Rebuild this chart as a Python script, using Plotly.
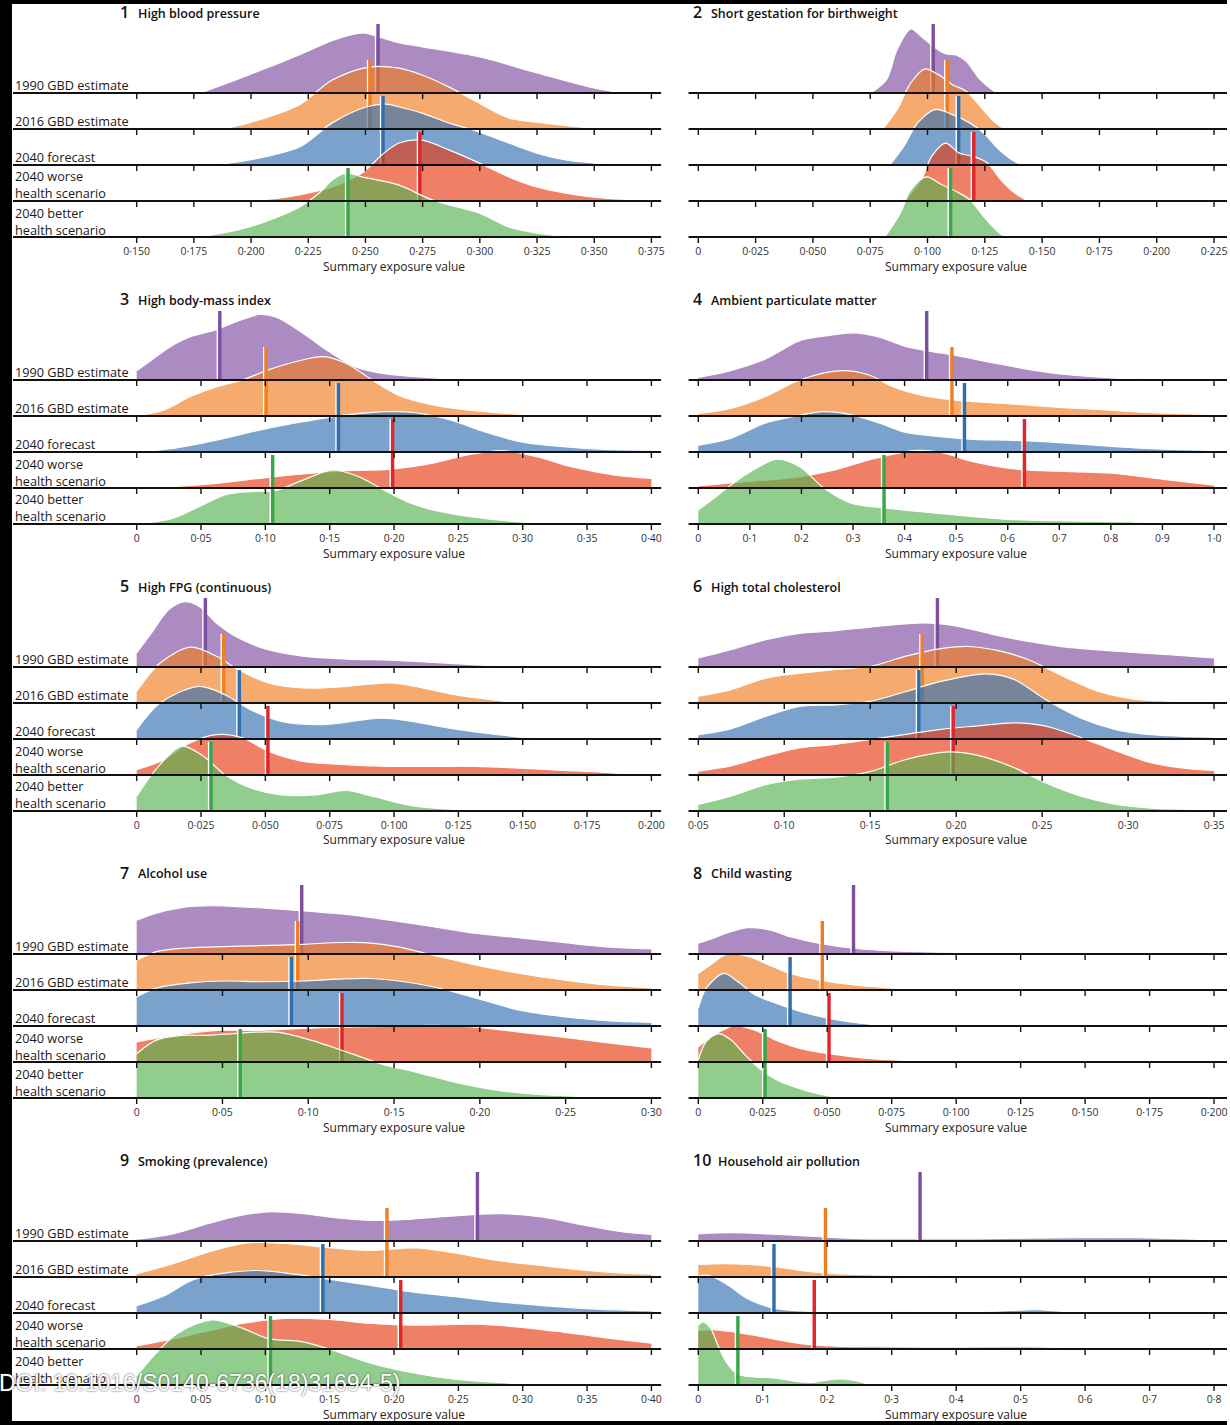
import plotly.graph_objects as go

W, H = 1230, 1425
FONT = "Open Sans"

ROW_LABELS = ["1990 GBD estimate", "2016 GBD estimate", "2040 forecast",
              "2040 worse<br>health scenario", "2040 better<br>health scenario"]
FILL_RGB = [(128, 75, 161), (241, 124, 32), (51, 112, 178), (232, 60, 18), (86, 178, 78)]
FILL_ALPHA = 0.65
BAR_COLORS = ["#7d4f9f", "#f07f22", "#2f6fb0", "#e0262a", "#3aa64a"]

TITLES = ["High blood pressure", "Short gestation for birthweight", "High body-mass index",
          "Ambient particulate matter", "High FPG (continuous)", "High total cholesterol",
          "Alcohol use", "Child wasting", "Smoking (prevalence)", "Household air pollution"]

# ---------------- 1 High blood pressure ----------------
hbp_x = [
    [0.178, 0.199, 0.221, 0.236, 0.249, 0.256, 0.265, 0.275, 0.300, 0.325, 0.350, 0.362],
    [0.1875, 0.199, 0.221, 0.2355, 0.2516, 0.2647, 0.2747, 0.2864, 0.2996, 0.3126, 0.3249, 0.340, 0.352],
    [0.1831, 0.1993, 0.2211, 0.2355, 0.2503, 0.259, 0.2647, 0.2747, 0.2864, 0.2996, 0.3126, 0.3249, 0.3375, 0.3606],
    [0.1993, 0.2120, 0.2211, 0.2355, 0.2485, 0.2581, 0.2647, 0.2747, 0.2864, 0.2996, 0.3126, 0.3249, 0.3375, 0.3497, 0.375],
    [0.1775, 0.1993, 0.2211, 0.2298, 0.2355, 0.2416, 0.2485, 0.2647, 0.2791, 0.2996, 0.3126, 0.3249, 0.3401],
]
hbp_h = [
    [0, 0.50, 1.06, 1.47, 1.67, 1.56, 1.39, 1.28, 1.00, 0.56, 0.14, 0],
    [0, 0.17, 0.67, 1.36, 1.72, 1.69, 1.50, 1.17, 0.72, 0.31, 0.19, 0.08, 0],
    [0, 0.14, 0.50, 1.17, 1.61, 1.69, 1.61, 1.44, 1.17, 0.92, 0.61, 0.33, 0.14, 0],
    [0, 0.08, 0.17, 0.39, 0.78, 1.33, 1.61, 1.69, 1.42, 1.06, 0.67, 0.39, 0.22, 0.11, 0.01],
    [0, 0.28, 0.83, 1.22, 1.58, 1.78, 1.67, 1.44, 1.03, 0.67, 0.28, 0.11, 0],
]
hbp_mean = [0.2555, 0.252, 0.2577, 0.2738, 0.2424]
hbp_ticks = [0.150, 0.175, 0.200, 0.225, 0.250, 0.275, 0.300, 0.325, 0.350, 0.375]
hbp_labels = ["0·150", "0·175", "0·200", "0·225", "0·250", "0·275", "0·300", "0·325", "0·350", "0·375"]

# ---------------- 2 Short gestation for birthweight ----------------
sg_x = [
    [0.0753, 0.0821, 0.0867, 0.0927, 0.0973, 0.1025, 0.1078, 0.1124, 0.1169, 0.1230, 0.1290, 0.1305],
    [0.0806, 0.0867, 0.0927, 0.0988, 0.1048, 0.1109, 0.1169, 0.1230, 0.1290, 0.1336],
    [0.0836, 0.0897, 0.0957, 0.1033, 0.1109, 0.1184, 0.1245, 0.1305, 0.1366, 0.1411],
    [0.0897, 0.0973, 0.1018, 0.1078, 0.1139, 0.1199, 0.1260, 0.1320, 0.1381, 0.1441],
    [0.0814, 0.0882, 0.0927, 0.0995, 0.1063, 0.1124, 0.1184, 0.1245, 0.1305, 0.1336],
]
sg_h = [
    [0, 0.37, 1.20, 1.78, 1.57, 1.30, 1.09, 1.06, 0.88, 0.37, 0.05, 0],
    [0, 0.54, 1.28, 1.67, 1.51, 1.23, 1.05, 0.63, 0.21, 0],
    [0, 0.52, 1.17, 1.54, 1.40, 1.17, 0.89, 0.47, 0.15, 0],
    [0, 0.59, 1.24, 1.61, 1.33, 1.24, 1.06, 0.59, 0.22, 0],
    [0, 0.67, 1.31, 1.67, 1.45, 1.27, 1.04, 0.57, 0.16, 0],
]
sg_mean = [0.1025, 0.1086, 0.1136, 0.1202, 0.1101]
sg_ticks = [0, 0.025, 0.050, 0.075, 0.100, 0.125, 0.150, 0.175, 0.200, 0.225]
sg_labels = ["0", "0·025", "0·050", "0·075", "0·100", "0·125", "0·150", "0·175", "0·200", "0·225"]

# ---------------- 3 High body-mass index ----------------
bmi_x = [
    [0, 0.0114, 0.0283, 0.0417, 0.0619, 0.0821, 0.0956, 0.1090, 0.1292, 0.1494, 0.1696, 0.1898, 0.2301, 0.2638, 0.3647],
    [0, 0.0215, 0.0417, 0.0619, 0.0821, 0.1023, 0.1225, 0.1450, 0.1629, 0.1830, 0.2032, 0.2301, 0.2638, 0.2974, 0.3244],
    [0, 0.0283, 0.0619, 0.0956, 0.1292, 0.1629, 0.1965, 0.2167, 0.2436, 0.2705, 0.2974, 0.3311, 0.3647, 0.4000],
    [0, 0.0283, 0.0619, 0.0956, 0.1292, 0.1629, 0.1965, 0.2301, 0.2571, 0.2840, 0.3109, 0.3378, 0.3715, 0.4000],
    [0, 0.0283, 0.0485, 0.0686, 0.0888, 0.1090, 0.1292, 0.1528, 0.1729, 0.1898, 0.2100, 0.2301, 0.2638, 0.2974, 0.3311],
]
bmi_h = [
    [0.26, 0.55, 0.97, 1.20, 1.40, 1.68, 1.82, 1.74, 1.30, 0.79, 0.37, 0.19, 0.06, 0.02, 0],
    [0, 0.17, 0.54, 0.81, 1.00, 1.28, 1.50, 1.65, 1.46, 1.00, 0.58, 0.31, 0.14, 0.05, 0],
    [0, 0.10, 0.33, 0.61, 0.84, 1.03, 1.12, 1.09, 0.89, 0.56, 0.29, 0.15, 0.07, 0.05],
    [0, 0.04, 0.13, 0.27, 0.39, 0.48, 0.52, 0.69, 0.92, 1.04, 0.87, 0.59, 0.36, 0.27],
    [0, 0.16, 0.48, 0.81, 0.90, 0.94, 1.22, 1.50, 1.31, 0.99, 0.62, 0.39, 0.18, 0.06, 0],
]
bmi_mean = [0.0646, 0.1006, 0.1568, 0.1989, 0.1057]
bmi_ticks = [0, 0.05, 0.10, 0.15, 0.20, 0.25, 0.30, 0.35, 0.40]
bmi_labels = ["0", "0·05", "0·10", "0·15", "0·20", "0·25", "0·30", "0·35", "0·40"]

# ---------------- 4 Ambient particulate matter ----------------
apm_x = [
    [0, 0.0625, 0.1297, 0.1969, 0.2507, 0.3011, 0.3515, 0.3985, 0.4456, 0.4993, 0.5665, 0.6337, 0.7009, 0.8017, 0.9026, 0.916],
    [0, 0.0625, 0.1297, 0.1969, 0.2776, 0.3313, 0.3784, 0.4321, 0.4993, 0.5665, 0.6337, 0.7009, 0.7681, 0.8690, 1.0],
    [0, 0.0625, 0.1297, 0.1835, 0.2440, 0.2977, 0.3515, 0.3985, 0.4657, 0.5329, 0.6001, 0.6673, 0.7681, 0.8690, 1.0],
    [0, 0.0961, 0.1969, 0.2641, 0.3313, 0.4187, 0.4724, 0.5329, 0.6001, 0.6673, 0.7345, 0.8017, 0.9026, 1.0],
    [0, 0.0423, 0.0961, 0.1532, 0.1969, 0.2440, 0.2977, 0.3649, 0.4321, 0.4993, 0.6001, 0.7009, 0.8354, 0.9698],
]
apm_h = [
    [0.07, 0.26, 0.58, 1.09, 1.23, 1.31, 1.19, 0.95, 0.81, 0.68, 0.49, 0.31, 0.17, 0.06, 0.01, 0],
    [0.07, 0.21, 0.54, 1.00, 1.26, 1.14, 0.81, 0.58, 0.44, 0.37, 0.31, 0.24, 0.19, 0.10, 0.04],
    [0.19, 0.38, 0.80, 0.98, 1.12, 1.03, 0.80, 0.56, 0.43, 0.35, 0.33, 0.29, 0.19, 0.10, 0.04],
    [0.06, 0.18, 0.31, 0.50, 0.78, 1.04, 0.98, 0.73, 0.55, 0.48, 0.45, 0.41, 0.24, 0.08],
    [0.39, 0.85, 1.41, 1.80, 1.59, 0.99, 0.57, 0.44, 0.34, 0.25, 0.13, 0.09, 0.06, 0],
]
apm_mean = [0.4429, 0.4919, 0.5161, 0.6324, 0.3602]
apm_ticks = [0, 0.1, 0.2, 0.3, 0.4, 0.5, 0.6, 0.7, 0.8, 0.9, 1.0]
apm_labels = ["0", "0·1", "0·2", "0·3", "0·4", "0·5", "0·6", "0·7", "0·8", "0·9", "1·0"]

# ---------------- 5 High FPG (continuous) ----------------
fpg_x = [
    [0, 0.0057, 0.0124, 0.0183, 0.0242, 0.0310, 0.0394, 0.0511, 0.0646, 0.0814, 0.0983, 0.1151, 0.1319, 0.1487],
    [0, 0.0091, 0.0209, 0.0310, 0.0394, 0.0511, 0.0646, 0.0814, 0.0983, 0.1083, 0.1235, 0.1403, 0.1487],
    [0, 0.0091, 0.0242, 0.0343, 0.0444, 0.0562, 0.0730, 0.0949, 0.1067, 0.1235, 0.1403, 0.1571],
    [0, 0.0108, 0.0192, 0.0310, 0.0411, 0.0511, 0.0646, 0.0814, 0.0983, 0.1151, 0.1319, 0.1487, 0.1655, 0.1824, 0.1958],
    [0, 0.0074, 0.0175, 0.0259, 0.0343, 0.0444, 0.0562, 0.0697, 0.0814, 0.0915, 0.1067, 0.1235, 0.1319],
]
fpg_h = [
    [0.39, 0.94, 1.59, 1.81, 1.69, 1.22, 0.81, 0.48, 0.30, 0.22, 0.19, 0.13, 0.06, 0],
    [0.32, 1.11, 1.55, 1.30, 0.93, 0.56, 0.42, 0.46, 0.56, 0.46, 0.23, 0.07, 0],
    [0.26, 1.00, 1.46, 1.23, 0.81, 0.49, 0.40, 0.58, 0.49, 0.28, 0.12, 0],
    [0.15, 0.43, 0.84, 1.12, 1.03, 0.66, 0.38, 0.29, 0.24, 0.24, 0.24, 0.19, 0.13, 0.07, 0],
    [0.41, 1.15, 1.80, 1.52, 1.01, 0.64, 0.45, 0.45, 0.57, 0.41, 0.15, 0.04, 0],
]
fpg_mean = [0.0267, 0.0338, 0.0399, 0.0510, 0.0289]
fpg_ticks = [0, 0.025, 0.050, 0.075, 0.100, 0.125, 0.150, 0.175, 0.200]
fpg_labels = ["0", "0·025", "0·050", "0·075", "0·100", "0·125", "0·150", "0·175", "0·200"]

# ---------------- 6 High total cholesterol ----------------
chol_x = [
    [0.05, 0.0689, 0.0893, 0.1097, 0.1300, 0.1504, 0.1708, 0.1850, 0.2013, 0.2217, 0.2421, 0.2624, 0.2930, 0.3235, 0.35],
    [0.05, 0.0689, 0.0893, 0.1097, 0.1300, 0.1504, 0.1708, 0.1911, 0.2074, 0.2258, 0.2421, 0.2624, 0.2828, 0.3032, 0.3235, 0.35],
    [0.05, 0.0689, 0.0893, 0.1097, 0.1300, 0.1504, 0.1708, 0.1911, 0.2176, 0.2339, 0.2522, 0.2726, 0.2930, 0.3133, 0.35],
    [0.05, 0.0689, 0.0893, 0.1097, 0.1300, 0.1504, 0.1708, 0.1911, 0.2115, 0.2339, 0.2522, 0.2726, 0.2930, 0.3133, 0.3337, 0.35],
    [0.05, 0.0689, 0.0893, 0.1097, 0.1300, 0.1504, 0.1708, 0.1952, 0.2115, 0.2319, 0.2522, 0.2726, 0.2930, 0.3133, 0.35],
]
chol_h = [
    [0.25, 0.48, 0.76, 0.94, 1.01, 1.11, 1.20, 1.22, 1.13, 0.90, 0.71, 0.56, 0.44, 0.34, 0.25],
    [0.19, 0.37, 0.69, 0.83, 0.93, 1.02, 1.30, 1.51, 1.57, 1.44, 1.20, 0.74, 0.32, 0.11, 0.05, 0.03],
    [0.12, 0.28, 0.63, 0.91, 0.95, 1.05, 1.32, 1.60, 1.81, 1.65, 1.09, 0.58, 0.26, 0.12, 0.05],
    [0.11, 0.25, 0.53, 0.76, 0.85, 0.99, 1.13, 1.27, 1.36, 1.45, 1.36, 1.04, 0.67, 0.34, 0.18, 0.13],
    [0.18, 0.41, 0.73, 0.89, 0.94, 1.10, 1.43, 1.64, 1.56, 1.24, 0.78, 0.41, 0.18, 0.08, 0.04],
]
chol_mean = [0.1891, 0.1803, 0.1783, 0.1983, 0.1600]
chol_ticks = [0.05, 0.10, 0.15, 0.20, 0.25, 0.30, 0.35]
chol_labels = ["0·05", "0·10", "0·15", "0·20", "0·25", "0·30", "0·35"]

# ---------------- 7 Alcohol use ----------------
alc_x = [
    [0, 0.0111, 0.0263, 0.0439, 0.0616, 0.0818, 0.1020, 0.1222, 0.1475, 0.1727, 0.1980, 0.2232, 0.2485, 0.2737, 0.30],
    [0, 0.0111, 0.0263, 0.0465, 0.0717, 0.0970, 0.1197, 0.1348, 0.1525, 0.1727, 0.1980, 0.2232, 0.2485, 0.2737, 0.30],
    [0, 0.0111, 0.0313, 0.0515, 0.0717, 0.0970, 0.1172, 0.1348, 0.1525, 0.1727, 0.1980, 0.2232, 0.2485, 0.2737, 0.30],
    [0, 0.0212, 0.0465, 0.0717, 0.0970, 0.1222, 0.1475, 0.1727, 0.1980, 0.2232, 0.2485, 0.2737, 0.30],
    [0, 0.0111, 0.0263, 0.0414, 0.0566, 0.0818, 0.1020, 0.1222, 0.1424, 0.1626, 0.1854, 0.2106, 0.2359, 0.2611, 0.2737],
]
alc_h = [
    [0.94, 1.13, 1.29, 1.34, 1.31, 1.25, 1.18, 1.10, 0.94, 0.76, 0.57, 0.45, 0.32, 0.20, 0.14],
    [0.83, 1.06, 1.16, 1.20, 1.23, 1.27, 1.32, 1.31, 1.20, 0.97, 0.69, 0.46, 0.28, 0.14, 0.06],
    [0.81, 1.05, 1.20, 1.25, 1.23, 1.25, 1.30, 1.32, 1.25, 1.09, 0.77, 0.44, 0.26, 0.15, 0.10],
    [0.56, 0.74, 0.88, 0.88, 0.93, 0.97, 0.99, 1.02, 0.97, 0.83, 0.69, 0.54, 0.39],
    [1.23, 1.60, 1.74, 1.74, 1.79, 1.83, 1.60, 1.28, 0.95, 0.72, 0.44, 0.21, 0.09, 0.04, 0],
]
alc_mean = [0.0962, 0.0939, 0.0902, 0.1197, 0.0604]
alc_ticks = [0, 0.05, 0.10, 0.15, 0.20, 0.25, 0.30]
alc_labels = ["0", "0·05", "0·10", "0·15", "0·20", "0·25", "0·30"]

# ---------------- 8 Child wasting ----------------
cw_x = [
    [0, 0.0058, 0.0126, 0.0194, 0.0276, 0.0357, 0.0466, 0.0602, 0.0738, 0.0942, 0.1145, 0.1349],
    [0, 0.0045, 0.0113, 0.0194, 0.0276, 0.0357, 0.0466, 0.0602, 0.0738, 0.0874],
    [0, 0.0031, 0.0099, 0.0154, 0.0221, 0.0303, 0.0398, 0.0507, 0.0602, 0.0738],
    [0, 0.0058, 0.0140, 0.0221, 0.0303, 0.0398, 0.0507, 0.0643, 0.0779, 0.0901],
    [0, 0.0031, 0.0079, 0.0126, 0.0181, 0.0235, 0.0303, 0.0385, 0.0466, 0.0548],
]
cw_h = [
    [0.30, 0.44, 0.62, 0.73, 0.67, 0.48, 0.30, 0.16, 0.09, 0.05, 0.03, 0],
    [0.46, 0.69, 1.00, 0.93, 0.69, 0.46, 0.28, 0.14, 0.06, 0],
    [0.49, 1.05, 1.46, 1.23, 0.86, 0.63, 0.40, 0.21, 0.10, 0],
    [0.42, 0.74, 1.00, 0.88, 0.60, 0.37, 0.23, 0.11, 0.05, 0],
    [1.06, 1.57, 1.79, 1.62, 1.20, 0.83, 0.51, 0.28, 0.11, 0],
]
cw_mean = [0.0602, 0.0481, 0.0356, 0.0507, 0.0259]
cw_ticks = [0, 0.025, 0.050, 0.075, 0.100, 0.125, 0.150, 0.175, 0.200]
cw_labels = ["0", "0·025", "0·050", "0·075", "0·100", "0·125", "0·150", "0·175", "0·200"]

# ---------------- 9 Smoking (prevalence) ----------------
smk_x = [
    [0, 0.0283, 0.0552, 0.0754, 0.1023, 0.1292, 0.1561, 0.1830, 0.2100, 0.2436, 0.2806, 0.3143, 0.3479, 0.3782, 0.40],
    [0, 0.0283, 0.0552, 0.0855, 0.1157, 0.1460, 0.1797, 0.2167, 0.2436, 0.2806, 0.3143, 0.3479, 0.3782, 0.40],
    [0, 0.0215, 0.0451, 0.0922, 0.1225, 0.1494, 0.1830, 0.2167, 0.2503, 0.2840, 0.3176, 0.3580, 0.40],
    [0, 0.0283, 0.0552, 0.0821, 0.1157, 0.1494, 0.1830, 0.2167, 0.2638, 0.2974, 0.3311, 0.3647, 0.40],
    [0, 0.0148, 0.0316, 0.0585, 0.0821, 0.1023, 0.1292, 0.1528, 0.1797, 0.2133, 0.2470, 0.2806, 0.3143],
]
smk_h = [
    [0.05, 0.20, 0.48, 0.67, 0.81, 0.76, 0.64, 0.57, 0.60, 0.69, 0.76, 0.67, 0.44, 0.25, 0.18],
    [0.09, 0.37, 0.69, 0.95, 0.93, 0.83, 0.74, 0.81, 0.69, 0.46, 0.32, 0.19, 0.11, 0.08],
    [0.20, 0.48, 0.94, 1.18, 1.08, 0.94, 0.76, 0.57, 0.44, 0.30, 0.20, 0.11, 0.06],
    [0.09, 0.28, 0.50, 0.71, 0.85, 0.82, 0.71, 0.66, 0.69, 0.61, 0.47, 0.31, 0.16],
    [0.25, 0.87, 1.43, 1.81, 1.58, 1.29, 1.20, 0.96, 0.63, 0.35, 0.16, 0.07, 0],
]
smk_mean = [0.2648, 0.1945, 0.1447, 0.2052, 0.1040]
smk_ticks = [0, 0.05, 0.10, 0.15, 0.20, 0.25, 0.30, 0.35, 0.40]
smk_labels = ["0", "0·05", "0·10", "0·15", "0·20", "0·25", "0·30", "0·35", "0·40"]

# ---------------- 10 Household air pollution ----------------
hap_x = [
    [0, 0.0505, 0.1049, 0.1592, 0.2136, 0.2679, 0.3495, 0.4310, 0.5125, 0.5940, 0.6755, 0.7571, 0.7995],
    [0, 0.0397, 0.0777, 0.1212, 0.1647, 0.2136, 0.2951, 0.4038, 0.5125, 0.6212, 0.7299, 0.7995],
    [0, 0.0125, 0.0288, 0.0505, 0.0723, 0.0940, 0.1212, 0.1592, 0.2408, 0.3495, 0.4582, 0.5234, 0.5668, 0.5995],
    [0, 0.0234, 0.0560, 0.0886, 0.1212, 0.1592, 0.2136, 0.2951, 0.4038, 0.5125, 0.5668, 0.6212],
    [0, 0.0071, 0.0179, 0.0315, 0.0451, 0.0614, 0.0886, 0.1158, 0.1484, 0.1755, 0.1973, 0.2190, 0.2408, 0.2679, 0.2734],
]
hap_h = [
    [0.20, 0.23, 0.20, 0.15, 0.09, 0.06, 0.06, 0.06, 0.08, 0.09, 0.09, 0.06, 0.03],
    [0.35, 0.37, 0.35, 0.28, 0.17, 0.09, 0.05, 0.03, 0.03, 0.03, 0.02, 0],
    [1.02, 1.05, 0.95, 0.72, 0.44, 0.26, 0.12, 0.06, 0.04, 0.03, 0.05, 0.09, 0.04, 0],
    [0.52, 0.54, 0.47, 0.38, 0.26, 0.15, 0.08, 0.06, 0.05, 0.06, 0.04, 0],
    [1.66, 1.75, 1.61, 1.06, 0.59, 0.30, 0.22, 0.20, 0.11, 0.07, 0.13, 0.17, 0.13, 0.01, 0],
]
hap_mean = [0.3440, 0.1973, 0.1174, 0.1799, 0.0614]
hap_ticks = [0, 0.1, 0.2, 0.3, 0.4, 0.5, 0.6, 0.7, 0.8]
hap_labels = ["0", "0·1", "0·2", "0·3", "0·4", "0·5", "0·6", "0·7", "0·8"]

PANELS = [
    (hbp_x, hbp_h, hbp_mean, hbp_ticks, hbp_labels),
    (sg_x, sg_h, sg_mean, sg_ticks, sg_labels),
    (bmi_x, bmi_h, bmi_mean, bmi_ticks, bmi_labels),
    (apm_x, apm_h, apm_mean, apm_ticks, apm_labels),
    (fpg_x, fpg_h, fpg_mean, fpg_ticks, fpg_labels),
    (chol_x, chol_h, chol_mean, chol_ticks, chol_labels),
    (alc_x, alc_h, alc_mean, alc_ticks, alc_labels),
    (cw_x, cw_h, cw_mean, cw_ticks, cw_labels),
    (smk_x, smk_h, smk_mean, smk_ticks, smk_labels),
    (hap_x, hap_h, hap_mean, hap_ticks, hap_labels),
]

# ---------------- layout geometry (pixels) ----------------
ROW_PX = 36.0          # vertical distance between ridge baselines
TOP0 = 93              # first baseline of the first panel row
PANEL_STEP = 287       # vertical distance between panel rows
BAR_LEN = 69 / ROW_PX  # length of the summary bars (in ridge units)
TICK_LEN = 6 / ROW_PX
ABOVE_PX = 80
BELOW_PX = 6

fig = go.Figure()
annotations = []

for k, (xs, hs, means, tv, tt) in enumerate(PANELS):
    r, c = divmod(k, 2)
    P = TOP0 + PANEL_STEP * r
    if c == 0:
        t0, t1, d0, d1 = 137, 653, 13, 663
    else:
        t0, t1, d0, d1 = 700, 1217, 690, 1230
    lo, hi = tv[0], tv[-1]
    per_px = (hi - lo) / (t1 - t0)
    xr = [lo + (d0 - t0) * per_px, lo + (d1 - t0) * per_px]
    yr = [-BELOW_PX / ROW_PX, 4 + ABOVE_PX / ROW_PX]
    sfx = "" if k == 0 else str(k + 1)
    xa, ya = "x" + sfx, "y" + sfx

    fig.layout["xaxis" + sfx] = dict(
        domain=[d0 / W, d1 / W], range=xr, anchor=ya,
        tickmode="array", tickvals=tv, ticktext=tt, ticks="",
        showgrid=False, zeroline=False, showline=False, fixedrange=True,
        tickfont=dict(family=FONT, size=10.5, color="#333333"),
    )
    fig.layout["yaxis" + sfx] = dict(
        domain=[1 - (P + 144 + BELOW_PX) / H, 1 - (P - ABOVE_PX) / H],
        range=yr, anchor=xa, visible=False, fixedrange=True,
    )

    for i in range(5):
        b = 4 - i
        rgb = FILL_RGB[i]
        fig.add_trace(go.Scatter(x=[xs[i][0], xs[i][-1]], y=[b, b], mode="lines",
                                 line=dict(width=0), hoverinfo="skip", showlegend=False,
                                 xaxis=xa, yaxis=ya))
        fig.add_trace(go.Scatter(x=xs[i], y=[b + v for v in hs[i]], mode="lines",
                                 line=dict(color="white", width=1.2, shape="spline", smoothing=0.9),
                                 fill="tonexty",
                                 fillcolor=f"rgba({rgb[0]},{rgb[1]},{rgb[2]},{FILL_ALPHA})",
                                 hoverinfo="skip", showlegend=False, xaxis=xa, yaxis=ya))
        m = means[i]
        fig.add_trace(go.Scatter(x=[m - 2.4 * per_px, m - 2.4 * per_px], y=[b, b + BAR_LEN],
                                 mode="lines", line=dict(color="white", width=1.5),
                                 hoverinfo="skip", showlegend=False, xaxis=xa, yaxis=ya))
        fig.add_trace(go.Scatter(x=[m, m], y=[b, b + BAR_LEN], mode="lines",
                                 line=dict(color=BAR_COLORS[i], width=3.4),
                                 hoverinfo="skip", showlegend=False, xaxis=xa, yaxis=ya))

    # baselines with ticks
    lx, ly = [], []
    for i in range(5):
        b = 4 - i
        lx += [xr[0], xr[1], None]
        ly += [b, b, None]
    fig.add_trace(go.Scatter(x=lx, y=ly, mode="lines", line=dict(color="#111111", width=1.9),
                             hoverinfo="skip", showlegend=False, xaxis=xa, yaxis=ya))
    tx, ty = [], []
    for i in range(5):
        b = 4 - i
        for t in tv:
            tx += [t, t, None]
            ty += [b, b - TICK_LEN, None]
    fig.add_trace(go.Scatter(x=tx, y=ty, mode="lines", line=dict(color="#111111", width=1.4),
                             hoverinfo="skip", showlegend=False, xaxis=xa, yaxis=ya))

    # panel title
    num_x = 118 if c == 0 else 693
    num = str(k + 1)
    annotations.append(dict(x=num_x / W, y=1 - (P - 81) / H, xref="paper", yref="paper",
                            text=num, showarrow=False, xanchor="left", yanchor="middle",
                            font=dict(family=FONT, size=16, color="#111111", weight=600)))
    annotations.append(dict(x=(num_x + (18 if len(num) == 1 else 25)) / W, y=1 - (P - 80) / H,
                            xref="paper", yref="paper", text=TITLES[k], showarrow=False,
                            xanchor="left", yanchor="middle",
                            font=dict(family=FONT, size=12.5, color="#111111", weight=600)))
    # axis title
    annotations.append(dict(x=((t0 + t1) / 2) / W, y=1 - (P + 173) / H, xref="paper", yref="paper",
                            text="Summary exposure value", showarrow=False,
                            xanchor="center", yanchor="middle",
                            font=dict(family=FONT, size=12, color="#222222")))
    # row labels (left column only)
    if c == 0:
        for i, lab in enumerate(ROW_LABELS):
            bpx = P + ROW_PX * i
            two = "<br>" in lab
            annotations.append(dict(x=13 / W, y=1 - (bpx - (16 if two else 8)) / H,
                                    xref="paper", yref="paper", text=lab, showarrow=False,
                                    xanchor="left", yanchor="middle", align="left",
                                    font=dict(family=FONT, size=12.7, color="#1a1a1a")))

# watermark-like DOI overlay seen in the reference
annotations.append(dict(x=-3 / W, y=1 - 1383 / H, xref="paper", yref="paper",
                        text="DOI: 10.1016/S0140-6736(18)31694-5)", showarrow=False,
                        xanchor="left", yanchor="middle",
                        font=dict(family="Liberation Sans", size=23, color="white",
                                  shadow="0px 0px 2px #333333")))

shapes = [
    dict(type="rect", xref="paper", yref="paper", x0=0, x1=12 / W, y0=0, y1=1,
         fillcolor="black", line=dict(width=0), layer="above"),
    dict(type="rect", xref="paper", yref="paper", x0=0, x1=1, y0=1 - 4 / H, y1=1,
         fillcolor="black", line=dict(width=0), layer="above"),
    dict(type="rect", xref="paper", yref="paper", x0=0, x1=1, y0=0, y1=4 / H,
         fillcolor="black", line=dict(width=0), layer="above"),
]

fig.update_layout(width=W, height=H, margin=dict(l=0, r=0, t=0, b=0),
                  paper_bgcolor="white", plot_bgcolor="rgba(0,0,0,0)",
                  showlegend=False, annotations=annotations, shapes=shapes,
                  font=dict(family=FONT))

fig.write_html("out.html", config={"displayModeBar": False},
               post_script="document.body.style.margin='0px';document.body.style.overflow='hidden';")
